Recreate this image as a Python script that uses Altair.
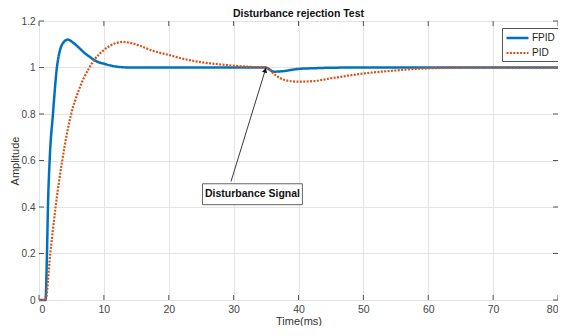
import altair as alt
import pandas as pd

# ---- data ----
fpid_t = [0, 0.9, 1.0, 1.23, 1.38, 1.64, 2.15, 2.76, 3.2, 3.7, 4.45, 5.2, 6.24, 7.0, 7.77,
          8.5, 10.3, 11.9, 14, 20, 30, 34.9, 35.3, 36.2, 37.5, 40, 42.5, 45, 50, 60, 70, 80]
fpid_y = [0, 0, 0.0, 0.2, 0.4, 0.6, 0.8, 1.0, 1.07, 1.105, 1.12, 1.108, 1.083, 1.063, 1.047,
          1.032, 1.014, 1.004, 1.0, 1.0, 1.0, 1.0, 0.995, 0.982, 0.984, 0.994, 0.997, 0.999, 1.0, 1.0, 1.0, 1.0]

pid_t = [0, 1.0, 1.74, 2.56, 3.58, 4.96, 6.1, 7.77, 8.5, 10.0, 11.9, 12.9, 13.9, 15.4, 17.5,
         20, 22.6, 25.2, 27.7, 30.3, 33, 35, 36.4, 37.9, 40, 42.5, 45.1, 47.7, 50.2, 52.8,
         55.3, 58, 62, 66, 70, 80]
pid_y = [0, 0, 0.2, 0.4, 0.6, 0.8, 0.9, 1.0, 1.032, 1.075, 1.105, 1.11, 1.107, 1.095, 1.072,
         1.054, 1.035, 1.022, 1.014, 1.007, 1.002, 1.0, 0.968, 0.946, 0.939, 0.942, 0.954, 0.965,
         0.975, 0.982, 0.988, 0.994, 0.998, 1.0, 1.0, 1.0]

series_names = ["FPID", "PID"]
series_colors = ["#0072BD", "#D95319"]

x_ticks = [0, 10, 20, 30, 40, 50, 60, 70, 80]
y_ticks = [0, 0.2, 0.4, 0.6, 0.8, 1.0, 1.2]

annot_text = ["Disturbance Signal"]
annot_box_t = [25.2]
annot_box_t2 = [40.6]
annot_box_y = [0.41]
annot_box_y2 = [0.50]
arrow_t = [29.6]
arrow_y = [0.51]
arrow_t2 = [35.0]
arrow_y2 = [1.0]

W, H = 519, 279

df = pd.concat([
    pd.DataFrame({"t": fpid_t, "y": fpid_y, "series": "FPID"}),
    pd.DataFrame({"t": pid_t, "y": pid_y, "series": "PID"}),
])

xs = alt.Scale(domain=[0, 80], nice=False, zero=False)
ys = alt.Scale(domain=[0, 1.2], nice=False)

xaxis = alt.Axis(values=x_ticks, title="Time(ms)", grid=True, gridColor="#e4e4e4",
                 tickSize=0, domain=False, labelPadding=4, titlePadding=1,
                 labelFontSize=10.5, titleFontSize=11, labelColor="#444", titleColor="#333",
                 titleFontWeight="normal", labelFont="Liberation Sans", titleFont="Liberation Sans")
yaxis = alt.Axis(values=y_ticks, title="Amplitude", grid=True, gridColor="#e4e4e4",
                 tickSize=0, domain=False, labelPadding=4, titlePadding=1,
                 labelFontSize=10, titleFontSize=11, labelColor="#444", titleColor="#333",
                 titleFontWeight="normal", labelFont="Liberation Sans", titleFont="Liberation Sans",
                 labelExpr="format(datum.value, '.1~f')")

X = alt.X("t:Q", scale=xs, axis=xaxis)
Y = alt.Y("y:Q", scale=ys, axis=yaxis)

lines = alt.Chart(df).mark_line(interpolate="monotone", strokeCap="butt").encode(
    x=X, y=Y,
    color=alt.Color("series:N", scale=alt.Scale(domain=series_names, range=series_colors),
                    legend=alt.Legend(title=None, orient="none", legendX=463, legendY=7,
                                      fillColor="white", strokeColor="#555", padding=3,
                                      symbolType="M-1,0L3,0", symbolSize=121, symbolStrokeWidth=2,
                                      labelFontSize=10, labelOffset=13, rowPadding=3,
                                      labelFont="Liberation Sans", labelColor="#222")),
    strokeDash=alt.StrokeDash("series:N", scale=alt.Scale(domain=series_names, range=[[1, 0], [2, 1.4]]),
                              legend=None),
    strokeWidth=alt.StrokeWidth("series:N", scale=alt.Scale(domain=series_names, range=[2.5, 2.2]),
                                legend=None),
)

xt = pd.DataFrame({"t": x_ticks})
yt = pd.DataFrame({"y": y_ticks})
tick_style = dict(color="#555", strokeWidth=1)
tb = alt.Chart(xt).mark_rule(**tick_style).encode(x=X, y=alt.value(H), y2=alt.value(H - 5))
tt = alt.Chart(xt).mark_rule(**tick_style).encode(x=X, y=alt.value(0), y2=alt.value(5))
tl = alt.Chart(yt).mark_rule(**tick_style).encode(y=Y, x=alt.value(0), x2=alt.value(5))
tr = alt.Chart(yt).mark_rule(**tick_style).encode(y=Y, x=alt.value(W), x2=alt.value(W - 5))

ann = pd.DataFrame({"t": annot_box_t, "t2": annot_box_t2, "y": annot_box_y, "y2": annot_box_y2,
                    "label": annot_text,
                    "at": arrow_t, "ay": arrow_y, "at2": arrow_t2, "ay2": arrow_y2})
ann["tc"] = (ann["t"] + ann["t2"]) / 2
ann["yc"] = (ann["y"] + ann["y2"]) / 2
ann["ht"] = ann["at2"] - 0.13
ann["hy"] = ann["ay2"] - 0.012

arrow = alt.Chart(ann).mark_rule(color="#222", strokeWidth=0.9).encode(
    x=alt.X("at:Q", scale=xs, axis=xaxis), y=alt.Y("ay:Q", scale=ys, axis=yaxis),
    x2="at2:Q", y2="ay2:Q")
head = alt.Chart(ann).mark_point(shape="triangle-up", filled=True, color="#111", size=28,
                                 angle=17, opacity=1).encode(
    x=alt.X("ht:Q", scale=xs, axis=xaxis), y=alt.Y("hy:Q", scale=ys, axis=yaxis))
box = alt.Chart(ann).mark_rect(fill="white", stroke="#666", strokeWidth=1).encode(
    x=alt.X("t:Q", scale=xs, axis=xaxis), x2="t2:Q",
    y=alt.Y("y:Q", scale=ys, axis=yaxis), y2="y2:Q")
txt = alt.Chart(ann).mark_text(fontWeight="bold", fontSize=10.5, font="Liberation Sans",
                               color="#111").encode(
    x=alt.X("tc:Q", scale=xs, axis=xaxis), y=alt.Y("yc:Q", scale=ys, axis=yaxis), text="label:N")

chart = alt.layer(tb, tt, tl, tr, lines, arrow, head, box, txt).properties(
    width=W, height=H,
    autosize=alt.AutoSizeParams(type="none"),
    padding={"left": 31, "top": 13, "right": 0, "bottom": 26},
    title=alt.TitleParams("Disturbance rejection Test", fontSize=10.5, fontWeight="bold",
                          font="Liberation Sans", color="#111", offset=0, dy=3.5, anchor="middle",
                          frame="group"),
).configure_view(stroke="#666", strokeWidth=1).configure(background="white")

chart.save("out.html", embed_options={"renderer": "svg", "actions": False})
